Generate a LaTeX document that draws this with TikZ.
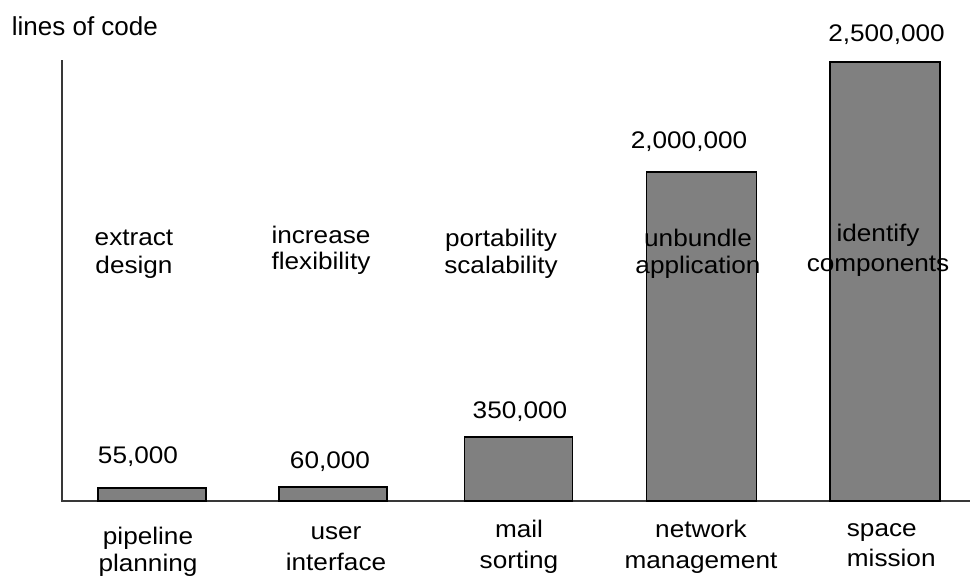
\documentclass[tikz,border=0pt]{standalone}
\usepackage{fontspec}
\setmainfont[FakeStretch=1.09]{Liberation Sans}
\newfontfamily\plainsans{Liberation Sans}
\begin{document}
\begin{tikzpicture}[x=0.5pt,y=-0.5pt,
  axis/.style={line width=1pt,draw=black!78},
  bar/.style={draw=black,line width=0.75pt,fill=black!50},
  txt/.style={inner sep=0pt,font=\fontsize{12}{14}\selectfont},
  value/.style={txt,anchor=base},
  task/.style={txt,align=center,anchor=base,font=\fontsize{12}{13.25}\selectfont},
  area/.style={txt,align=center,anchor=base,font=\fontsize{12}{15.25}\selectfont}]
  \useasboundingbox (0,0) rectangle (970,578);

  % axes
  \coordinate (origin) at (61.5,501);
  \coordinate (ytop) at (61.5,60);
  \coordinate (xend) at (970,501);
  \draw[axis] (ytop) -- (origin) -- (xend);
  \node[txt,anchor=base west,font=\plainsans\fontsize{13}{15}\selectfont] (ylabel) at (11.5,35) {lines of code};

  % bars
  \draw[bar] (98,488) rectangle (206,501);
  \draw[bar] (279,487) rectangle (387,501);
  \draw[bar] (464.5,437) rectangle (572.5,501);
  \draw[bar] (646.5,172) rectangle (756.5,501);
  \draw[bar] (830,62) rectangle (940,501);

  % values
  \node[value] (v1) at (138,463) {55,000};
  \node[value] (v2) at (330,468) {60,000};
  \node[value] (v3) at (520,418) {350,000};
  \node[value] (v4) at (689,148) {2,000,000};
  \node[value] (v5) at (886.5,41.5) {2,500,000};

  % tasks (anchored on the baseline of the last line)
  \node[task,font=\fontsize{12}{14}\selectfont] (t1) at (134,273) {extract\\design};
  \node[task] (t2) at (321,270) {increase\\flexibility};
  \node[task] (t3) at (501,273) {portability\\scalability};
  \node[task] (t4) at (698,273) {unbundle\\application};
  \node[task,font=\fontsize{12}{15}\selectfont] (t5) at (878,271.5) {identify\\components};

  % application areas
  \node[area,font=\fontsize{12}{13.5}\selectfont] (d1) at (148,571.5) {pipeline\\planning};
  \node[area] (d2) at (336,570) {user\\interface};
  \node[area] (d3) at (519,568) {mail\\sorting};
  \node[area] (d4) at (701,568) {network\\management};
  \node[area,align=left,anchor=base west] (d5) at (846.5,566.5) {space\\mission};
\end{tikzpicture}
\end{document}
